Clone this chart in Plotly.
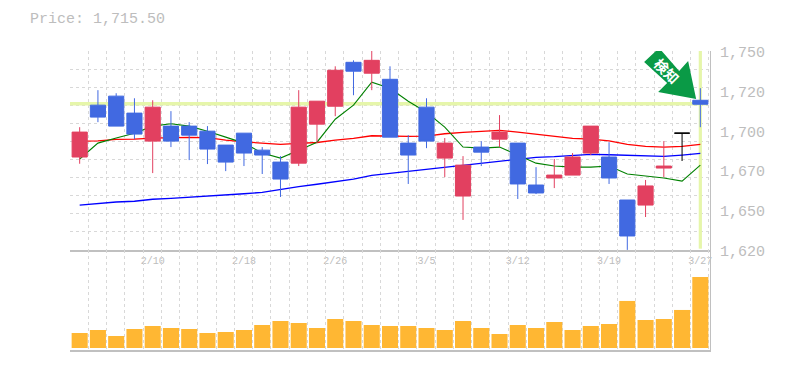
import plotly.graph_objects as go

DATES = ["2/4","2/5","2/6","2/7","2/10","2/12","2/13","2/14","2/17","2/18",
         "2/19","2/20","2/21","2/25","2/26","2/27","2/28","3/2","3/3","3/5",
         "3/6","3/9","3/10","3/11","3/12","3/13","3/16","3/17","3/18","3/19",
         "3/23","3/24","3/25","3/26","3/27"]
OPEN = [1680.7,1714.6,1720.5,1709.4,1691.1,1700.9,1700.9,1697.6,1688.5,1696.3,
        1685.2,1677.4,1676.7,1702.2,1713.9,1742.6,1735.5,1731.5,1689.8,1713.3,
        1680.0,1655.2,1687.2,1692.4,1689.8,1662.4,1667.0,1668.9,1683.3,1680.7,
        1652.6,1649.3,1673.5,1696.3,1717.8]
HIGH = [1700.2,1724.4,1722.4,1719.1,1717.8,1710.7,1703.5,1700.9,1688.5,1696.3,
        1687.2,1681.3,1724.4,1717.2,1740.0,1743.9,1750.0,1740.0,1695.0,1719.1,
        1693.1,1681.3,1691.1,1708.1,1689.8,1674.1,1679.4,1683.3,1700.9,1690.4,
        1652.6,1665.7,1691.1,1696.3,1725.7]
LOW = [1676.3,1703.5,1700.9,1692.4,1670.2,1687.2,1678.7,1676.1,1671.5,1674.8,
       1669.6,1654.6,1674.8,1689.8,1707.4,1721.1,1724.4,1693.7,1663.1,1686.5,
       1667.6,1639.6,1674.8,1687.2,1653.3,1656.5,1660.4,1668.9,1682.0,1663.1,
       1620.0,1641.5,1667.6,1678.1,1700.2]
CLOSE = [1697.0,1706.8,1700.9,1695.7,1713.3,1691.1,1695.0,1685.9,1677.4,1683.3,
         1682.0,1666.3,1713.3,1717.2,1737.4,1736.8,1743.9,1693.7,1682.0,1691.1,
         1689.8,1675.4,1683.9,1697.0,1663.1,1657.2,1668.9,1680.7,1700.9,1667.0,
         1629.1,1661.8,1674.8,1696.3,1715.2]
MA_SHORT = [1679.4,1689.8,1693.1,1696.3,1700.9,1702.5,1700.9,1697.6,1693.7,1689.8,
            1683.3,1680.0,1685.2,1690.4,1705.4,1714.6,1729.6,1725.7,1717.2,1710.0,
            1700.2,1687.2,1686.5,1687.2,1682.0,1676.7,1674.8,1674.1,1674.1,1674.8,
            1669.6,1668.3,1667.0,1665.0,1675.4]
MA_MID = [1691.1,1691.3,1692.2,1692.4,1693.1,1693.5,1693.5,1693.4,1691.7,1690.6,
          1690.0,1689.0,1689.6,1690.2,1691.7,1692.9,1694.6,1694.2,1694.2,1694.4,
          1695.9,1696.8,1697.4,1698.1,1697.0,1695.7,1694.4,1692.9,1692.4,1691.3,
          1689.0,1687.6,1687.2,1687.6,1689.0]
MA_LONG = [1649.2,1650.5,1651.3,1651.8,1653.1,1653.7,1654.4,1655.2,1655.7,1656.7,
           1657.6,1659.6,1661.3,1662.9,1664.4,1666.3,1668.7,1670.0,1671.3,1673.0,
           1674.1,1675.6,1676.6,1678.1,1679.2,1680.5,1680.9,1681.8,1682.4,1682.2,
           1681.8,1681.1,1681.1,1682.0,1683.1]
VOLUME = [15,18,12,19,22,20,19,15,16,18,23,27,25,20,29,27,23,22,22,20,
          18,27,20,14,23,20,26,18,22,24,47,28,29,38,71]
LAST_PRICE = 1715.5
PRICE_LABEL_VALUES = [1750,1724,1698,1672,1646,1620]
PRICE_LABEL_TEXT = ["1,750","1,720","1,700","1,670","1,650","1,620"]
DATE_TICK_IDX = [4,9,14,19,24,29,34]
SIGNAL_TEXT = "検知"

IDX = list(range(len(DATES)))
DOJI = 33
MAIN = [i for i in IDX if i != DOJI]
GRID = "#d8d8d8"
AXIS = "#c0c0c0"
TXT = "#bdbdbd"
MONO = "Liberation Mono"
RED = "#E24060"
BLUE = "#4169E1"
HILITE = "#E6F6AA"

fig = go.Figure()
# highlight lines
fig.add_trace(go.Scatter(x=[-0.53,34.4], y=[LAST_PRICE,LAST_PRICE], mode="lines",
                         line=dict(color=HILITE,width=3.4), xaxis="x", yaxis="y"))
fig.add_trace(go.Scatter(x=[34,34], y=[1620.8,1750], mode="lines",
                         line=dict(color=HILITE,width=3.2), xaxis="x", yaxis="y"))
# moving averages
for vals,c,w in ((MA_LONG,"#0000FF",1.3),(MA_MID,"#FF0000",1.3),(MA_SHORT,"#008000",1.1)):
    fig.add_trace(go.Scatter(x=IDX,y=vals,mode="lines",line=dict(color=c,width=w),
                             xaxis="x",yaxis="y"))
# candles (on an overlay axis, so they sit above the lines)
pick = lambda a,ii:[a[i] for i in ii]
fig.add_trace(go.Candlestick(x=MAIN,open=pick(OPEN,MAIN),high=pick(HIGH,MAIN),
                             low=pick(LOW,MAIN),close=pick(CLOSE,MAIN),
                             increasing=dict(line=dict(color=RED,width=1),fillcolor=RED),
                             decreasing=dict(line=dict(color=BLUE,width=1),fillcolor=BLUE),
                             whiskerwidth=0,xaxis="x",yaxis="y3"))
fig.add_trace(go.Candlestick(x=[DOJI],open=[OPEN[DOJI]],high=[HIGH[DOJI]],
                             low=[LOW[DOJI]],close=[CLOSE[DOJI]],
                             increasing=dict(line=dict(color="#000000",width=1),fillcolor="#000000"),
                             decreasing=dict(line=dict(color="#000000",width=1),fillcolor="#000000"),
                             whiskerwidth=0,xaxis="x",yaxis="y3"))
# volume
fig.add_trace(go.Bar(x=IDX,y=VOLUME,marker=dict(color="#FFB733",line=dict(width=0)),
                     xaxis="x2",yaxis="y2"))

XR = [-0.53,34.53]
YR = [1620,1750]
grid_y = [1620+i*130/11 for i in range(12)]
minor = dict(showgrid=True,tick0=-0.53,dtick=1,gridcolor=GRID,griddash="3px,3px",gridwidth=1,ticks="")
W,H = 785,370
split = (350.3-250)/(350.3-50.7)

ann = [dict(xref="paper",yref="y",x=1,y=v,text=t,showarrow=False,xanchor="left",yanchor="middle",
            xshift=8,yshift=-2.5,font=dict(family=MONO,size=15,color=TXT))
       for v,t in zip(PRICE_LABEL_VALUES,PRICE_LABEL_TEXT)]
ann.append(dict(xref="x",yref="y",x=34,y=LAST_PRICE,text="<b>"+SIGNAL_TEXT+"</b>",showarrow=False,textangle=45,
                xshift=-33,yshift=33,font=dict(family="Noto Sans CJK JP",size=14,color="#ffffff")))

ARROW = [(-41.2,55.8),(-56.2,41.8),(-33.2,20.8),(-42.2,11.8),(-4.2,4.8),(-12.2,42.8),(-21.2,32.8)]
path = "M"+" L".join(f"{a},{b}" for a,b in ARROW)+" Z"

fig.update_layout(
    width=W,height=H,showlegend=False,paper_bgcolor="#fff",plot_bgcolor="#fff",
    margin=dict(l=70.3,r=W-710,t=50.7,b=H-350.3,pad=0,autoexpand=False),
    boxmode="overlay",boxgap=0.17,boxgroupgap=0,bargap=0.12,
    title=dict(text="Price: 1,715.50",x=30/W,xanchor="left",y=1-18/H,yanchor="middle",
               xref="container",yref="container",font=dict(family=MONO,size=15,color=TXT)),
    xaxis=dict(domain=[0,1],range=XR,anchor="y",tickmode="array",tickvals=DATE_TICK_IDX,
               ticktext=[DATES[i] for i in DATE_TICK_IDX],showgrid=False,minor=minor,
               showline=True,linecolor=AXIS,linewidth=1.5,zeroline=False,ticks="",
               rangeslider=dict(visible=False),tickangle=0,
               tickfont=dict(family=MONO,size=10,color=TXT)),
    yaxis=dict(domain=[split,1],range=YR,anchor="x",side="right",tickmode="array",tickvals=grid_y,
               showticklabels=False,gridcolor=GRID,griddash="3px,3px",gridwidth=1,
               showline=True,linecolor=AXIS,linewidth=1,zeroline=False,ticks=""),
    yaxis3=dict(domain=[split,1],range=YR,anchor="x",overlaying="y",side="right",showgrid=False,
                showticklabels=False,zeroline=False,ticks=""),
    xaxis2=dict(domain=[0,1],range=XR,anchor="y2",tickmode="array",tickvals=[],showgrid=False,
                minor=minor,showline=True,linecolor=AXIS,linewidth=1.5,zeroline=False,
                showticklabels=False,ticks="",tickangle=0),
    yaxis2=dict(domain=[0,split],range=[-2,98],anchor="x2",side="right",showgrid=False,
                showticklabels=False,showline=True,linecolor=AXIS,linewidth=1,zeroline=False,ticks=""),
    annotations=ann,
    shapes=[dict(type="path",path=path,xref="x",yref="y",xsizemode="pixel",ysizemode="pixel",
                 xanchor=34,yanchor=LAST_PRICE,fillcolor="#0A9A46",line=dict(width=0),layer="above")],
)
fig.write_html("out.html",config=dict(displayModeBar=False),
               post_script="document.body.style.margin='0';")
